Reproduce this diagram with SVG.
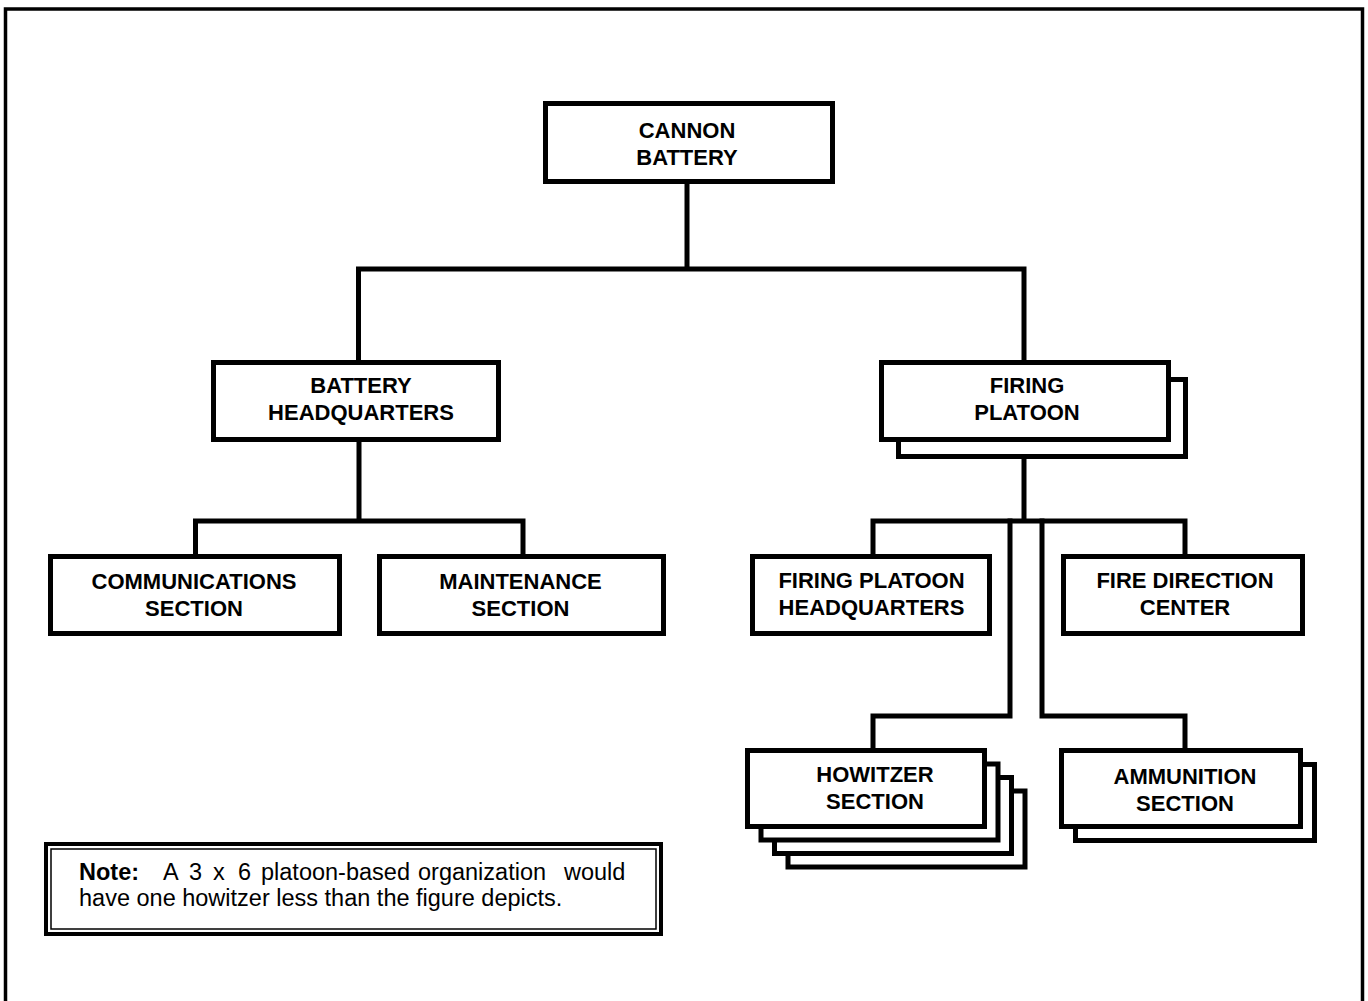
<svg xmlns="http://www.w3.org/2000/svg" width="1368" height="1001" viewBox="0 0 1368 1001">
<style>
.box{fill:#fff;stroke:#000;stroke-width:5}
.conn{fill:none;stroke:#000;stroke-width:5;stroke-linecap:square;stroke-linejoin:miter}
.lbl{font-family:"Liberation Sans",Arial,sans-serif;font-weight:bold;font-size:22px;text-anchor:middle;fill:#000}
.note{font-family:"Liberation Sans",Arial,sans-serif;font-size:23.5px;fill:#000}
</style>
<rect x="0" y="0" width="1368" height="1001" fill="#fff"/>
<path d="M5.5,1010 V9 H1362.5 V1010" fill="none" stroke="#000" stroke-width="3.5"/>
<g id="connectors">
<path class="conn" d="M687,184 V269 M358.5,269 H1024 M358.5,269 V360 M1024,269 V360"/>
<path class="conn" d="M359,442 V521 M195.5,521 H523 M195.5,521 V554 M523,521 V554"/>
<path class="conn" d="M1024,459 V521 M873,521 H1185 M873,521 V554 M1185,521 V554"/>
<path class="conn" d="M1010,521 V716 H873 V748"/>
<path class="conn" d="M1042,521 V716 H1185 V748"/>
</g>
<g id="cannon-battery">
<rect class="box" x="545.5" y="103.5" width="287" height="78"/>
<text class="lbl" x="687" y="138">CANNON</text>
<text class="lbl" x="687" y="165">BATTERY</text>
</g>
<g id="battery-headquarters">
<rect class="box" x="213.5" y="362.5" width="285" height="77"/>
<text class="lbl" x="361" y="393">BATTERY</text>
<text class="lbl" x="361" y="420">HEADQUARTERS</text>
</g>
<g id="firing-platoon">
<rect class="box" x="898.5" y="379.5" width="287" height="77"/>
<rect class="box" x="881.5" y="362.5" width="287" height="77"/>
<text class="lbl" x="1027" y="393">FIRING</text>
<text class="lbl" x="1027" y="420">PLATOON</text>
</g>
<g id="communications-section">
<rect class="box" x="50.5" y="556.5" width="289" height="77"/>
<text class="lbl" x="194" y="589">COMMUNICATIONS</text>
<text class="lbl" x="194" y="616">SECTION</text>
</g>
<g id="maintenance-section">
<rect class="box" x="379.5" y="556.5" width="284" height="77"/>
<text class="lbl" x="520.5" y="589">MAINTENANCE</text>
<text class="lbl" x="520.5" y="616">SECTION</text>
</g>
<g id="firing-platoon-headquarters">
<rect class="box" x="752.5" y="556.5" width="237" height="77"/>
<text class="lbl" x="871.5" y="588">FIRING PLATOON</text>
<text class="lbl" x="871.5" y="615">HEADQUARTERS</text>
</g>
<g id="fire-direction-center">
<rect class="box" x="1063.5" y="556.5" width="239" height="77"/>
<text class="lbl" x="1185" y="588">FIRE DIRECTION</text>
<text class="lbl" x="1185" y="615">CENTER</text>
</g>
<g id="howitzer-section">
<rect class="box" x="788" y="791" width="237" height="76"/>
<rect class="box" x="774.5" y="777.5" width="237" height="76"/>
<rect class="box" x="761" y="764" width="237" height="76"/>
<rect class="box" x="747.5" y="750.5" width="237" height="76"/>
<text class="lbl" x="875" y="782">HOWITZER</text>
<text class="lbl" x="875" y="809">SECTION</text>
</g>
<g id="ammunition-section">
<rect class="box" x="1075.5" y="764.5" width="239" height="76"/>
<rect class="box" x="1061.5" y="750.5" width="239" height="76"/>
<text class="lbl" x="1185" y="784">AMMUNITION</text>
<text class="lbl" x="1185" y="811">SECTION</text>
</g>
<g id="note">
<rect x="46" y="844" width="615" height="90" fill="#fff" stroke="#000" stroke-width="4"/>
<rect x="51" y="849" width="605" height="80" fill="none" stroke="#000" stroke-width="1.5"/>
<text class="note" y="880"><tspan x="79" font-weight="bold">Note:</tspan><tspan x="163">A</tspan><tspan x="189">3</tspan><tspan x="213">x</tspan><tspan x="238">6</tspan><tspan x="261">platoon-based</tspan><tspan x="418">organization</tspan><tspan x="564">would</tspan></text>
<text class="note" x="79" y="906">have one howitzer less than the figure depicts.</text>
</g>
</svg>
